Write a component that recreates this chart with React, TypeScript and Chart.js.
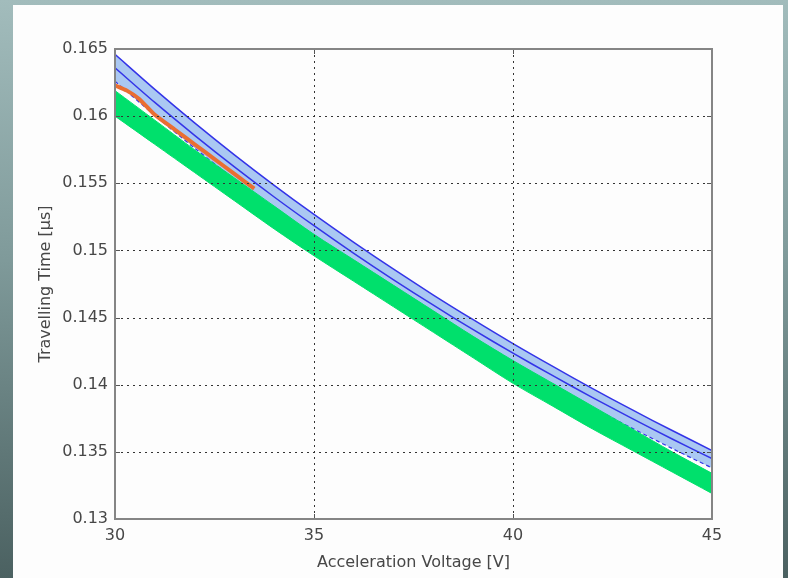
import React, { useEffect, useRef } from 'react';
import { Chart, registerables } from 'chart.js';

Chart.register(...registerables);

// ---- data ----
const voltages = [30, 31, 32, 33, 34, 35, 36, 37, 38, 39, 40, 41, 42, 43, 44, 45];
const blueUpper = [0.1646, 0.16199, 0.1595, 0.15712, 0.15485, 0.15268, 0.1506, 0.1486, 0.14668, 0.14484, 0.14306, 0.14136, 0.13971, 0.13812, 0.13659, 0.1351];
const blueMiddle = [0.1636, 0.16102, 0.15857, 0.15622, 0.15398, 0.15184, 0.14978, 0.14781, 0.14592, 0.1441, 0.14235, 0.14067, 0.13904, 0.13748, 0.13596, 0.1345];
const blueLower = [0.1626, 0.16005, 0.15762, 0.1553, 0.15308, 0.15096, 0.14893, 0.14698, 0.14511, 0.14331, 0.14158, 0.13991, 0.1383, 0.13675, 0.13525, 0.1338];
const greenUpper = [0.1619, 0.1597, 0.1575, 0.1554, 0.1533, 0.1512, 0.1493, 0.1474, 0.1455, 0.1436, 0.1418, 0.1401, 0.1384, 0.1367, 0.135, 0.1334];
const greenLower = [0.16, 0.1579, 0.1558, 0.1537, 0.1516, 0.1496, 0.1477, 0.1458, 0.1439, 0.142, 0.1401, 0.1384, 0.1367, 0.1351, 0.1335, 0.1319];
const orangeVoltages = [30, 30.3, 30.6, 31, 31.5, 32, 32.5, 33, 33.5];
const orangeValues = [0.1623, 0.1619, 0.1613, 0.1601, 0.159, 0.1579, 0.1568, 0.1557, 0.1546];
const xTicks = [30, 35, 40, 45];
const yTicks = [0.13, 0.135, 0.14, 0.145, 0.15, 0.155, 0.16, 0.165];

const xTitle = 'Acceleration Voltage [V]';
const yTitle = 'Travelling Time [µs]';

const pts = (xs: number[], ys: number[]) => xs.map((x, i) => ({ x, y: ys[i] }));

const FONT = '"DejaVu Sans", "Liberation Sans", Arial, sans-serif';
const TEXT = '#474747';

const matlabAxes = {
  id: 'matlabAxes',
  afterDatasetsDraw(chart: any) {
    const { ctx, chartArea: a, scales } = chart;
    const x = scales.x;
    const y = scales.y;
    ctx.save();
    ctx.beginPath();
    ctx.rect(a.left, a.top, a.right - a.left, a.bottom - a.top);
    ctx.clip();
    ctx.strokeStyle = '#333333';
    ctx.lineWidth = 1;
    ctx.setLineDash([2, 4]);
    for (const v of xTicks) {
      const px = Math.round(x.getPixelForValue(v)) + 0.5;
      ctx.beginPath();
      ctx.moveTo(px, a.top);
      ctx.lineTo(px, a.bottom);
      ctx.stroke();
    }
    for (const v of yTicks) {
      const py = Math.round(y.getPixelForValue(v)) + 0.5;
      ctx.beginPath();
      ctx.moveTo(a.left, py);
      ctx.lineTo(a.right, py);
      ctx.stroke();
    }
    ctx.setLineDash([]);
    // inward tick marks
    ctx.strokeStyle = '#555';
    const tl = 5;
    for (const v of xTicks) {
      const px = Math.round(x.getPixelForValue(v)) + 0.5;
      ctx.beginPath();
      ctx.moveTo(px, a.bottom);
      ctx.lineTo(px, a.bottom - tl);
      ctx.moveTo(px, a.top);
      ctx.lineTo(px, a.top + tl);
      ctx.stroke();
    }
    for (const v of yTicks) {
      const py = Math.round(y.getPixelForValue(v)) + 0.5;
      ctx.beginPath();
      ctx.moveTo(a.left, py);
      ctx.lineTo(a.left + tl, py);
      ctx.moveTo(a.right, py);
      ctx.lineTo(a.right - tl, py);
      ctx.stroke();
    }
    ctx.restore();
    // box
    ctx.save();
    ctx.strokeStyle = '#858585';
    ctx.lineWidth = 2;
    ctx.strokeRect(a.left, a.top, a.right - a.left, a.bottom - a.top);
    ctx.restore();
  },
};

export default function App() {
  const ref = useRef<HTMLCanvasElement | null>(null);

  useEffect(() => {
    document.body.style.margin = '0';
    const canvas = ref.current;
    if (!canvas) return;
    const blue = '#3434e8';
    const chart = new Chart(canvas, {
      type: 'line',
      data: {
        datasets: [
          {
            label: 'orange',
            data: pts(orangeVoltages, orangeValues),
            borderColor: '#ea6e32',
            borderWidth: 4,
            pointRadius: 0,
            tension: 0.2,
            fill: false,
          },
          {
            label: 'green upper',
            data: pts(voltages, greenUpper),
            borderColor: '#00e06c',
            borderWidth: 1,
            pointRadius: 0,
            tension: 0.3,
            fill: false,
          },
          {
            label: 'green lower',
            data: pts(voltages, greenLower),
            borderColor: '#00e06c',
            backgroundColor: '#00e06c',
            borderWidth: 1,
            pointRadius: 0,
            tension: 0.3,
            fill: 1,
          },
          {
            label: 'blue upper',
            data: pts(voltages, blueUpper),
            borderColor: blue,
            borderWidth: 1.5,
            pointRadius: 0,
            tension: 0.3,
            fill: false,
          },
          {
            label: 'blue middle',
            data: pts(voltages, blueMiddle),
            borderColor: blue,
            borderWidth: 1.5,
            pointRadius: 0,
            tension: 0.3,
            fill: false,
          },
          {
            label: 'blue lower',
            data: pts(voltages, blueLower),
            borderColor: blue,
            backgroundColor: '#aac8f2',
            borderWidth: 1.2,
            borderDash: [4, 3],
            pointRadius: 0,
            tension: 0.3,
            fill: 3,
          },
        ],
      },
      options: {
        responsive: false,
        animation: false,
        devicePixelRatio: 1,
        layout: { padding: { top: 44, right: 71, left: 0, bottom: 0 } },
        plugins: {
          legend: { display: false },
          tooltip: { enabled: false },
        },
        scales: {
          x: {
            type: 'linear',
            min: 30,
            max: 45,
            afterBuildTicks: (s: any) => {
              s.ticks = xTicks.map((v) => ({ value: v }));
            },
            afterFit: (s: any) => {
              s.height = 59;
            },
            grid: { display: false, drawTicks: false },
            border: { display: false },
            ticks: {
              autoSkip: false,
              maxRotation: 0,
              padding: 7,
              color: TEXT,
              font: { family: FONT, size: 16 },
              callback: (v: any) => String(v),
            },
            title: {
              display: true,
              text: xTitle,
              color: TEXT,
              font: { family: FONT, size: 16 },
              padding: { top: 0, bottom: 6 },
            },
          },
          y: {
            type: 'linear',
            min: 0.13,
            max: 0.165,
            afterBuildTicks: (s: any) => {
              s.ticks = yTicks.map((v) => ({ value: v }));
            },
            afterFit: (s: any) => {
              s.width = 102;
            },
            grid: { display: false, drawTicks: false },
            border: { display: false },
            ticks: {
              autoSkip: false,
              padding: 7,
              color: TEXT,
              font: { family: FONT, size: 16 },
              callback: (v: any) => String(parseFloat(Number(v).toFixed(3))),
            },
            title: {
              display: true,
              text: yTitle,
              color: TEXT,
              font: { family: FONT, size: 16 },
              padding: { top: 23, bottom: 0 },
            },
          },
        },
      },
      plugins: [matlabAxes],
    } as any);
    return () => chart.destroy();
  }, []);

  return (
    <div
      style={{
        position: 'fixed',
        left: 0,
        top: 0,
        width: 788,
        height: 578,
        background: 'linear-gradient(to bottom, #a2bcbc 0%, #7f9a9a 45%, #4b6161 100%)',
        overflow: 'hidden',
      }}
    >
      <div
        style={{
          position: 'absolute',
          left: 13,
          top: 5,
          width: 770,
          height: 573,
          background: '#fdfdfd',
        }}
      >
        <canvas ref={ref} width={770} height={573} style={{ display: 'block', width: 770, height: 573 }} />
      </div>
    </div>
  );
}
